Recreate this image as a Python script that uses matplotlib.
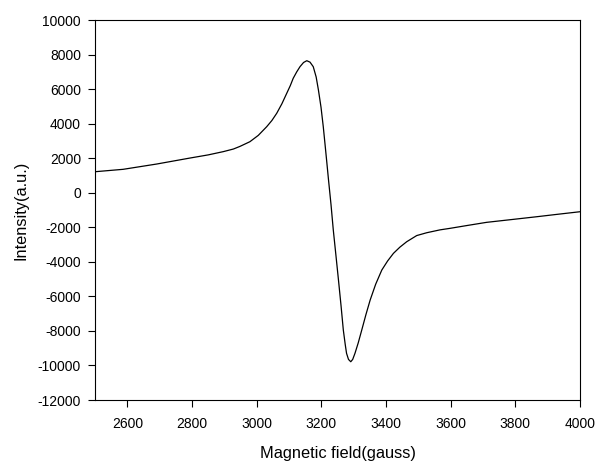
import matplotlib
matplotlib.rcParams['font.family'] = ['Liberation Sans', 'DejaVu Sans']
matplotlib.rcParams['axes.unicode_minus'] = False
import matplotlib.pyplot as plt

# EPR spectrum
field = [2500, 2587, 2691, 2794, 2850, 2897, 2928, 2948, 2979, 3005, 3031, 3047,
         3062, 3078, 3093, 3104, 3113, 3124, 3134, 3145, 3155, 3165, 3175, 3184,
         3191, 3199, 3206, 3212, 3217, 3222, 3230, 3237, 3245, 3253, 3261, 3268,
         3274, 3278, 3284, 3291, 3297, 3304, 3314, 3325, 3338, 3351, 3368, 3387,
         3405, 3423, 3443, 3464, 3495, 3526, 3567, 3598, 3650, 3711, 3790, 3866,
         3930, 4000]
intensity = [1216, 1355, 1662, 2009, 2190, 2380, 2530, 2680, 2953, 3320, 3822, 4180,
             4598, 5150, 5756, 6200, 6624, 7000, 7297, 7540, 7643, 7560, 7297, 6700,
             5947, 4950, 3822, 2700, 1750, 780, -700, -2160, -3600, -5055, -6550, -7950,
             -8800, -9300, -9650, -9785, -9650, -9300, -8700, -7950, -7050, -6213, -5300, -4476,
             -3950, -3510, -3150, -2837, -2480, -2316, -2150, -2062, -1900, -1715, -1550, -1390,
             -1250, -1100]

fig = plt.figure(figsize=(5.98, 4.63), dpi=100)
ax = fig.add_axes([95/598, 63/463, 485/598, 380/463])

ax.plot(field, intensity, color='black', linewidth=0.9)

ax.set_xlim(2500, 4000)
ax.set_ylim(-12000, 10000)
ax.set_xticks(range(2600, 4001, 200))
ax.set_yticks(range(-12000, 10001, 2000))
ax.tick_params(direction='out', length=5, width=0.8, labelsize=10, top=False, right=False)
ax.tick_params(axis='x', pad=7)
ax.tick_params(axis='y', pad=5)

ax.set_xlabel('Magnetic field(gauss)', fontsize=11.8, labelpad=11)
ax.set_ylabel('Intensity(a.u.)', fontsize=11.8, labelpad=7)

plt.savefig('out.png', dpi=100)
